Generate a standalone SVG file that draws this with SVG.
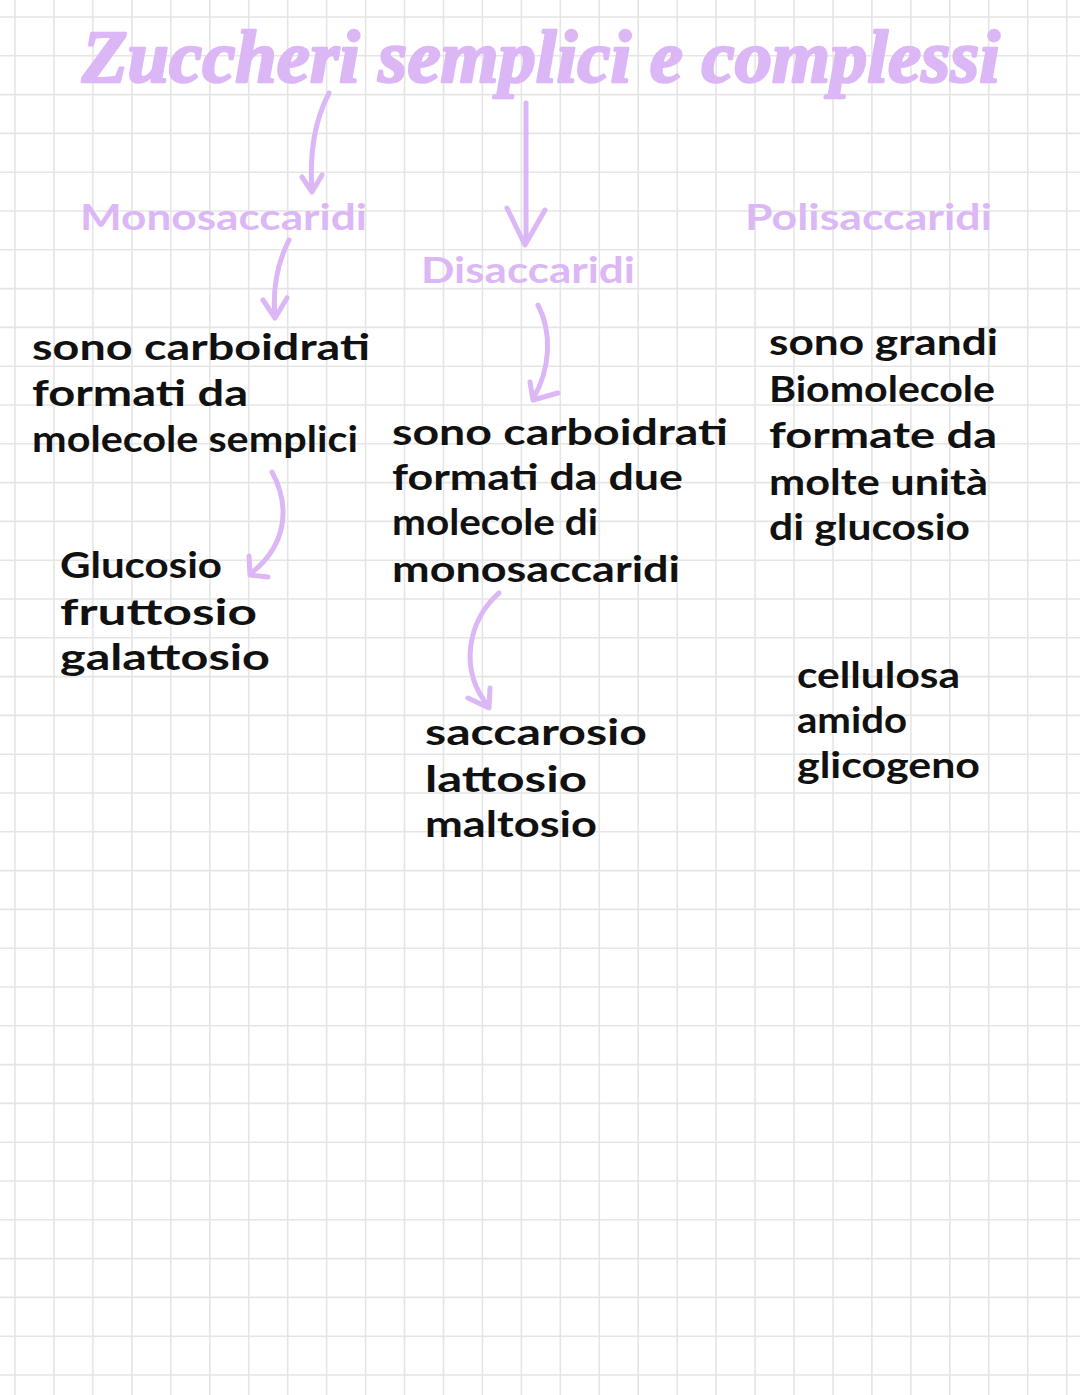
<svg xmlns="http://www.w3.org/2000/svg" width="1080" height="1395" viewBox="0 0 1080 1395">
<style>
.grid{fill:none;stroke:#e5e5e5;stroke-width:1.6}
.title{font-family:"Liberation Serif",serif;font-style:italic;font-weight:700;font-size:74px;fill:#dcb7f6;stroke:#dcb7f6;stroke-width:2.5;stroke-linejoin:round}
.head{font-family:Lato,"Noto Sans",sans-serif;font-weight:700;font-size:36px;fill:#dcb7f6}
.txt{font-family:Lato,"Noto Sans",sans-serif;font-weight:700;font-size:37px;fill:#111}
.arr{fill:none;stroke:#dcb7f6;stroke-width:5;stroke-linecap:round;stroke-linejoin:round}
</style>
<rect width="1080" height="1395" fill="#ffffff"/>
<path class="grid" d="M15 0V1395M54 0V1395M92.9 0V1395M131.9 0V1395M170.8 0V1395M209.8 0V1395M248.7 0V1395M287.7 0V1395M326.6 0V1395M365.6 0V1395M404.5 0V1395M443.5 0V1395M482.4 0V1395M521.4 0V1395M560.3 0V1395M599.3 0V1395M638.2 0V1395M677.2 0V1395M716.1 0V1395M755.1 0V1395M794 0V1395M833 0V1395M871.9 0V1395M910.9 0V1395M949.8 0V1395M988.8 0V1395M1027.7 0V1395M1066.7 0V1395M0 17H1080M0 55.8H1080M0 94.6H1080M0 133.4H1080M0 172.2H1080M0 211H1080M0 249.8H1080M0 288.6H1080M0 327.4H1080M0 366.2H1080M0 405H1080M0 443.8H1080M0 482.6H1080M0 521.4H1080M0 560.2H1080M0 599H1080M0 637.8H1080M0 676.6H1080M0 715.4H1080M0 754.2H1080M0 793H1080M0 831.8H1080M0 870.6H1080M0 909.4H1080M0 948.2H1080M0 987H1080M0 1025.8H1080M0 1064.6H1080M0 1103.4H1080M0 1142.2H1080M0 1181H1080M0 1219.8H1080M0 1258.6H1080M0 1297.4H1080M0 1336.2H1080M0 1375H1080"/>
<g id="title"><text class="title" x="82" y="82" textLength="918" lengthAdjust="spacingAndGlyphs">Zuccheri semplici e complessi</text></g>
<g id="monosaccaridi"><text class="head" x="80" y="230" textLength="287" lengthAdjust="spacingAndGlyphs">Monosaccaridi</text></g>
<g id="disaccaridi"><text class="head" x="421" y="283" textLength="214" lengthAdjust="spacingAndGlyphs">Disaccaridi</text></g>
<g id="polisaccaridi"><text class="head" x="745" y="230" textLength="247" lengthAdjust="spacingAndGlyphs">Polisaccaridi</text></g>
<g id="mono-desc">
<text class="txt" x="32" y="360" textLength="338" lengthAdjust="spacingAndGlyphs">sono carboidrati</text>
<text class="txt" x="32" y="406" textLength="216" lengthAdjust="spacingAndGlyphs">formati da</text>
<text class="txt" x="32" y="452" textLength="326" lengthAdjust="spacingAndGlyphs">molecole semplici</text>
</g>
<g id="mono-examples">
<text class="txt" x="60" y="578" textLength="162" lengthAdjust="spacingAndGlyphs">Glucosio</text>
<text class="txt" x="60" y="625" textLength="197" lengthAdjust="spacingAndGlyphs">fruttosio</text>
<text class="txt" x="60" y="670" textLength="210" lengthAdjust="spacingAndGlyphs">galattosio</text>
</g>
<g id="di-desc">
<text class="txt" x="392" y="445" textLength="336" lengthAdjust="spacingAndGlyphs">sono carboidrati</text>
<text class="txt" x="392" y="490" textLength="291" lengthAdjust="spacingAndGlyphs">formati da due</text>
<text class="txt" x="392" y="535" textLength="206" lengthAdjust="spacingAndGlyphs">molecole di</text>
<text class="txt" x="392" y="582" textLength="288" lengthAdjust="spacingAndGlyphs">monosaccaridi</text>
</g>
<g id="di-examples">
<text class="txt" x="425" y="745" textLength="222" lengthAdjust="spacingAndGlyphs">saccarosio</text>
<text class="txt" x="425" y="792" textLength="162" lengthAdjust="spacingAndGlyphs">lattosio</text>
<text class="txt" x="425" y="837" textLength="172" lengthAdjust="spacingAndGlyphs">maltosio</text>
</g>
<g id="poli-desc">
<text class="txt" x="769" y="355" textLength="229" lengthAdjust="spacingAndGlyphs">sono grandi</text>
<text class="txt" x="769" y="402" textLength="226" lengthAdjust="spacingAndGlyphs">Biomolecole</text>
<text class="txt" x="769" y="448" textLength="228" lengthAdjust="spacingAndGlyphs">formate da</text>
<text class="txt" x="769" y="495" textLength="219" lengthAdjust="spacingAndGlyphs">molte unità</text>
<text class="txt" x="769" y="540" textLength="201" lengthAdjust="spacingAndGlyphs">di glucosio</text>
</g>
<g id="poli-examples">
<text class="txt" x="797" y="688" textLength="163" lengthAdjust="spacingAndGlyphs">cellulosa</text>
<text class="txt" x="797" y="733" textLength="110" lengthAdjust="spacingAndGlyphs">amido</text>
<text class="txt" x="797" y="778" textLength="183" lengthAdjust="spacingAndGlyphs">glicogeno</text>
</g>
<g id="connectors">
<path class="arr" d="M329,93 C316,118 309,150 312,190 M302,177 L312,192 L322,175"/>
<path class="arr" d="M526,103 L526,243 M507,208 L525,245 L545,210"/>
<path class="arr" d="M289,240 C280,258 272,285 275,316 M263,300 L275,318 L287,298"/>
<path class="arr" d="M538,305 C552,332 551,368 533,399 M530,382 L533,400 L558,393"/>
<path class="arr" d="M272,472 C290,505 288,545 250,574 M249,556 L250,575 L268,577"/>
<path class="arr" d="M499,593 C468,620 458,670 489,707 M468,698 L489,708 L490,688"/>
</g>
</svg>
